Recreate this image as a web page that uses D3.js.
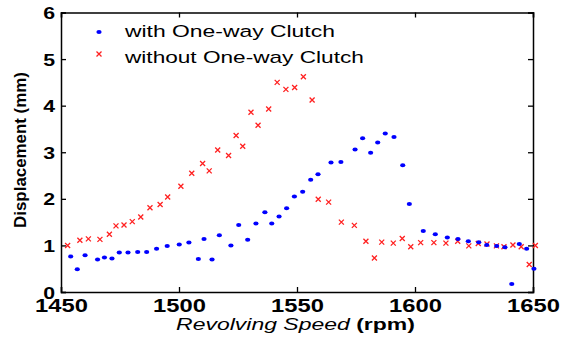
<!DOCTYPE html>
<html>
<head>
<meta charset="utf-8">
<script src="https://cdn.jsdelivr.net/npm/d3@7"></script>
<style>
  body { margin: 0; background: #fff; }
  svg { display: block; font-family: "Liberation Sans", Arial, sans-serif; }
</style>
</head>
<body>
<svg id="chart" width="569" height="340"></svg>
<script>
// with One-way Clutch
const withRpm = [1454.1, 1456.9, 1460.2, 1465.5, 1468.4, 1471.6, 1474.7, 1478.4, 1482.5, 1486.3,
  1490.5, 1495, 1500.1, 1504.2, 1508.2, 1510.6, 1514, 1517.1, 1522, 1525.3, 1529.1, 1532.6,
  1536.4, 1539.3, 1542.4, 1545.6, 1548.9, 1552.4, 1555.8, 1558.9, 1564.4, 1568.6, 1574.6,
  1577.8, 1581.2, 1584.2, 1587.4, 1591.1, 1594.8, 1597.6, 1603.5, 1608.6, 1613.7, 1618.2,
  1622.6, 1627, 1630.4, 1634.6, 1638.1, 1641, 1644.2, 1647.3, 1650.4];
const withDisp = [0.76, 0.49, 0.79, 0.70, 0.74, 0.72, 0.85, 0.85, 0.86, 0.86,
  0.93, 0.99, 1.02, 1.06, 0.71, 1.14, 0.70, 1.22, 1.00, 1.44, 1.12, 1.47,
  1.71, 1.47, 1.62, 1.80, 2.05, 2.15, 2.41, 2.53, 2.78, 2.79, 3.06,
  3.30, 2.99, 3.21, 3.40, 3.33, 2.72, 1.89, 1.31, 1.24, 1.17, 1.14,
  1.09, 1.07, 1.01, 0.99, 0.96, 0.17, 1.03, 0.93, 0.50];

// without One-way Clutch
const withoutRpm = [1452.8, 1458, 1461.6, 1466.5, 1470.5, 1473.3, 1476.7, 1480.2, 1483.8, 1487.7,
  1492, 1495.2, 1500.8, 1505.4, 1510, 1512.8, 1516.4, 1521, 1524.2, 1527, 1530.5, 1533.5,
  1538, 1541.6, 1545.3, 1549, 1552.7, 1556.4, 1559, 1563.4, 1568.8, 1574.3, 1579.2, 1582.8,
  1585.9, 1590.8, 1594.6, 1598.2, 1602.4, 1608, 1613.1, 1618.1, 1622.8, 1626.8, 1630.5,
  1634.5, 1637.7, 1641.5, 1645, 1648.4, 1651];
const withoutDisp = [1.00, 1.11, 1.14, 1.13, 1.24, 1.42, 1.44, 1.51, 1.61, 1.81,
  1.88, 2.04, 2.27, 2.55, 2.76, 2.60, 3.05, 2.93, 3.36, 3.13, 3.86, 3.58,
  3.93, 4.50, 4.35, 4.39, 4.62, 4.12, 1.99, 1.93, 1.50, 1.43, 1.09, 0.73,
  1.07, 1.05, 1.15, 0.97, 1.06, 1.06, 1.05, 1.09, 0.99, 1.04, 1.03,
  0.99, 0.97, 1.01, 0.97, 0.59, 1.00];

const xTicks = [1450, 1500, 1550, 1600, 1650];
const yTicks = [0, 1, 2, 3, 4, 5, 6];
const seriesNames = ["with One-way Clutch", "without One-way Clutch"];

const svg = d3.select("#chart");
const margin = { left: 61, right: 533, top: 12.5, bottom: 292 };

const x = d3.scaleLinear().domain([1450, 1650]).range([margin.left, margin.right]);
const y = d3.scaleLinear().domain([0, 6]).range([margin.bottom, margin.top]);

// the original picture is stretched sideways, so texts are too
const stretch = 1.25;

// stretch a text to a given width, keeping its anchor point
function fitWidth(sel, px, py, width) {
  const len = sel.node().getComputedTextLength();
  sel.attr("x", 0).attr("y", 0)
    .attr("transform", `translate(${px},${py}) scale(${width / len},1)`);
}

// Axes (inward ticks, mirrored on top/right)
const tickLen = 5;
svg.append("g")
  .attr("transform", `translate(0,${margin.bottom})`)
  .call(d3.axisBottom(x).tickValues(xTicks).tickSize(-tickLen).tickFormat(d3.format("d")))
  .call(g => g.selectAll("text")
    .attr("font-size", 19).attr("font-weight", "bold")
    .attr("y", 0).attr("dy", 0)
    .attr("transform", `translate(0,20) scale(${stretch},1)`));
svg.append("g")
  .attr("transform", `translate(0,${margin.top})`)
  .call(d3.axisTop(x).tickValues(xTicks).tickSize(-tickLen).tickFormat(""));
svg.append("g")
  .attr("transform", `translate(${margin.left},0)`)
  .call(d3.axisLeft(y).tickValues(yTicks).tickSize(-tickLen).tickFormat(d3.format("d")))
  .call(g => g.selectAll("text")
    .attr("font-size", 17).attr("font-weight", "bold")
    .attr("x", 0).attr("dy", "0.36em")
    .attr("transform", `translate(-6,0) scale(${stretch},1)`));
svg.append("g")
  .attr("transform", `translate(${margin.right},0)`)
  .call(d3.axisRight(y).tickValues(yTicks).tickSize(-tickLen).tickFormat(""));

svg.selectAll(".domain").attr("stroke", "#000").attr("stroke-width", 1.5);
svg.selectAll(".tick line").attr("stroke", "#000").attr("stroke-width", 1.3);
svg.selectAll(".tick text").attr("fill", "#000");

// Red x markers
const xPath = (cx, cy, r) => `M${cx - r},${cy - r}L${cx + r},${cy + r}M${cx - r},${cy + r}L${cx + r},${cy - r}`;
const withoutData = withoutRpm.map((r, i) => ({ r, v: withoutDisp[i] }));
svg.append("g")
  .selectAll("path")
  .data(withoutData)
  .join("path")
  .attr("d", d => xPath(x(d.r), y(d.v), 2.5))
  .attr("stroke", "#ff2020")
  .attr("stroke-width", 1.3)
  .attr("fill", "none");

// Blue dots
const withData = withRpm.map((r, i) => ({ r, v: withDisp[i] }));
svg.append("g")
  .selectAll("ellipse")
  .data(withData)
  .join("ellipse")
  .attr("cx", d => x(d.r))
  .attr("cy", d => y(d.v))
  .attr("rx", 2.6)
  .attr("ry", 2)
  .attr("fill", "#0000ff");

// Legend
const legend = svg.append("g");
legend.append("ellipse").attr("cx", 99).attr("cy", 32).attr("rx", 2.6).attr("ry", 2).attr("fill", "#0000ff");
legend.append("path").attr("d", xPath(99, 54, 2.5)).attr("stroke", "#ff2020").attr("stroke-width", 1.3);
const legendWidths = [210, 239];
legend.selectAll("text")
  .data(seriesNames)
  .join("text")
  .attr("font-size", 17)
  .attr("fill", "#000")
  .text(d => d)
  .each(function (d, i) {
    fitWidth(d3.select(this), 125, 37 + i * 25.5, legendWidths[i]);
  });

// Axis labels
const yl = svg.append("text")
  .attr("text-anchor", "middle")
  .attr("font-size", 17)
  .attr("font-weight", "bold")
  .text("Displacement (mm)");
{
  const len = yl.node().getComputedTextLength();
  yl.attr("transform", `translate(25.5,150) rotate(-90) scale(${156 / len},1)`);
}

const xl = svg.append("text")
  .attr("text-anchor", "middle")
  .attr("font-size", 17);
xl.append("tspan").attr("font-style", "italic").text("Revolving Speed ");
xl.append("tspan").attr("font-weight", "bold").text("(rpm)");
fitWidth(xl, 295.5, 330, 239);
</script>
</body>
</html>
